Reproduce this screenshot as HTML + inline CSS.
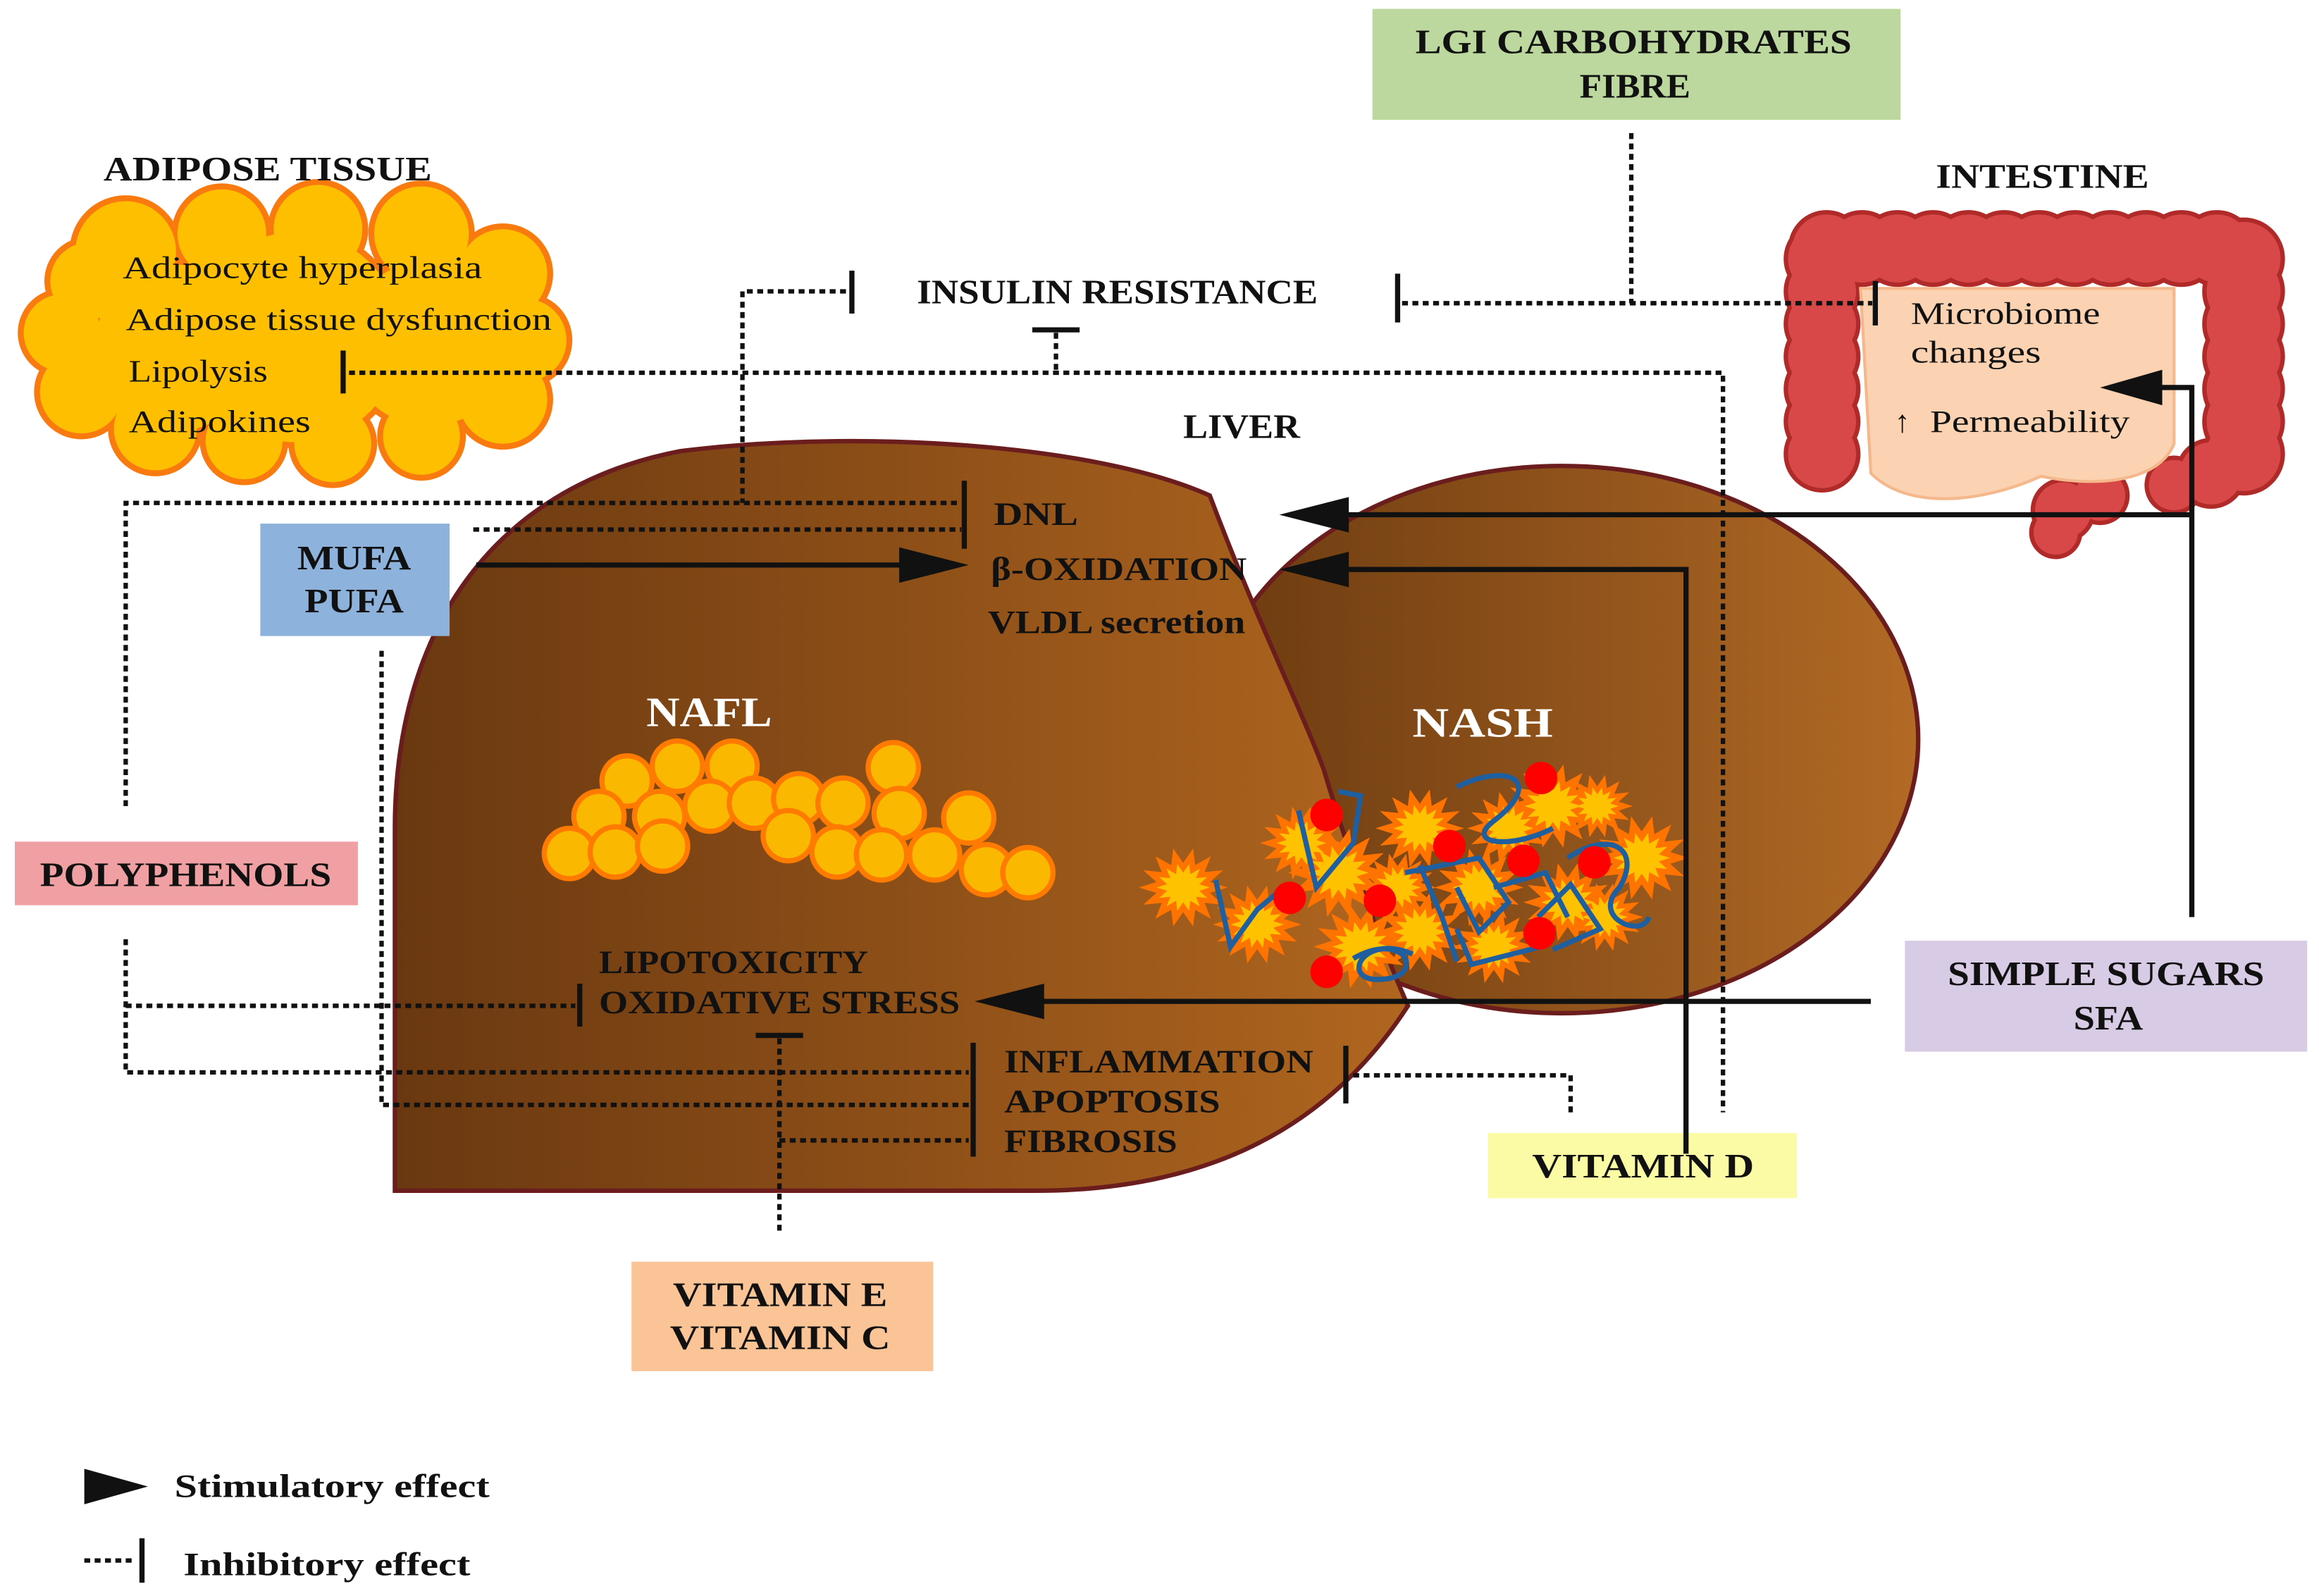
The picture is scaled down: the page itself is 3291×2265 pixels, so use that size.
<!DOCTYPE html>
<html><head><meta charset="utf-8">
<style>
html,body{margin:0;padding:0;background:#fff;}
svg{display:block;}
text{font-family:"Liberation Serif",serif;fill:#111;}
.b{font-weight:bold;}
</style></head>
<body>
<svg id="s" width="3291" height="2265" viewBox="0 0 1568 1079" preserveAspectRatio="none" xmlns="http://www.w3.org/2000/svg">
<defs>
<linearGradient id="lg" x1="0" x2="1" y1="0" y2="0">
<stop offset="0" stop-color="#6a3810"/><stop offset="1" stop-color="#b0661f"/>
</linearGradient>
<linearGradient id="rg" x1="0" x2="1" y1="0" y2="0">
<stop offset="0" stop-color="#6b3a10"/><stop offset="1" stop-color="#b26a25"/>
</linearGradient>
</defs>

<rect x="928" y="6" width="357" height="75" fill="#bcd89e"/>
<text x="957" y="36" font-size="23" class="b" textLength="295" lengthAdjust="spacingAndGlyphs">LGI CARBOHYDRATES</text>
<text x="1068" y="66" font-size="23" class="b" textLength="75" lengthAdjust="spacingAndGlyphs">FIBRE</text>

<!-- cloud -->
<g id="cloud"></g>
<text x="70" y="122" font-size="23" class="b" textLength="222" lengthAdjust="spacingAndGlyphs">ADIPOSE TISSUE</text>
<text x="1309" y="127" font-size="23" class="b" textLength="144" lengthAdjust="spacingAndGlyphs">INTESTINE</text>

<text x="83" y="188" font-size="21" textLength="243" lengthAdjust="spacingAndGlyphs">Adipocyte hyperplasia</text>
<text x="85" y="223" font-size="21" textLength="288" lengthAdjust="spacingAndGlyphs">Adipose tissue dysfunction</text>
<text x="87" y="258" font-size="21" textLength="94" lengthAdjust="spacingAndGlyphs">Lipolysis</text>
<text x="87" y="292" font-size="21" textLength="123" lengthAdjust="spacingAndGlyphs">Adipokines</text>

<!-- intestine -->
<g id="gut"></g>
<text x="1292" y="219" font-size="21" textLength="128" lengthAdjust="spacingAndGlyphs">Microbiome</text>
<text x="1292" y="245" font-size="21" textLength="88" lengthAdjust="spacingAndGlyphs">changes</text>
<text x="1281" y="292" font-size="21">↑</text>
<text x="1305" y="292" font-size="21" textLength="135" lengthAdjust="spacingAndGlyphs">Permeability</text>

<!-- liver -->
<ellipse cx="1056" cy="500" rx="241" ry="185" fill="url(#rg)" stroke="#6b1d1d" stroke-width="3"/>
<path d="M267,805 L267,560 C267,430 330,330 460,305 C580,290 740,300 818,335 C850,420 880,480 895,520 C910,570 930,630 952,680 C900,760 820,805 700,805 Z" fill="url(#lg)" stroke="#6b1d1d" stroke-width="3"/>

<text x="800" y="296" font-size="23" class="b" textLength="79" lengthAdjust="spacingAndGlyphs">LIVER</text>
<text x="620" y="205" font-size="23" class="b" textLength="271" lengthAdjust="spacingAndGlyphs">INSULIN RESISTANCE</text>

<text x="437" y="491" font-size="28" class="b" style="fill:#fff" textLength="85" lengthAdjust="spacingAndGlyphs">NAFL</text>
<text x="955" y="498" font-size="28" class="b" style="fill:#fff" textLength="95" lengthAdjust="spacingAndGlyphs">NASH</text>

<g id="nafl"></g>
<g id="nash"></g>

<text x="672" y="355" font-size="22" class="b" textLength="57" lengthAdjust="spacingAndGlyphs">DNL</text>
<text x="670" y="392" font-size="22" class="b" textLength="173" lengthAdjust="spacingAndGlyphs">β-OXIDATION</text>
<text x="668" y="428" font-size="22" class="b" textLength="174" lengthAdjust="spacingAndGlyphs">VLDL secretion</text>
<text x="405" y="658" font-size="22" class="b" textLength="182" lengthAdjust="spacingAndGlyphs">LIPOTOXICITY</text>
<text x="405" y="685" font-size="22" class="b" textLength="244" lengthAdjust="spacingAndGlyphs">OXIDATIVE STRESS</text>
<text x="679" y="725" font-size="22" class="b" textLength="209" lengthAdjust="spacingAndGlyphs">INFLAMMATION</text>
<text x="679" y="752" font-size="22" class="b" textLength="146" lengthAdjust="spacingAndGlyphs">APOPTOSIS</text>
<text x="679" y="779" font-size="22" class="b" textLength="117" lengthAdjust="spacingAndGlyphs">FIBROSIS</text>

<rect x="176" y="354" width="128" height="76" fill="#8db3dc"/>
<text x="201" y="385" font-size="23" class="b" textLength="77" lengthAdjust="spacingAndGlyphs">MUFA</text>
<text x="206" y="414" font-size="23" class="b" textLength="67" lengthAdjust="spacingAndGlyphs">PUFA</text>

<rect x="10" y="569" width="232" height="43" fill="#f0a0a2"/>
<text x="27" y="599" font-size="23" class="b" textLength="197" lengthAdjust="spacingAndGlyphs">POLYPHENOLS</text>

<rect x="1288" y="636" width="272" height="75" fill="#d8cbe5"/>
<text x="1317" y="666" font-size="23" class="b" textLength="214" lengthAdjust="spacingAndGlyphs">SIMPLE SUGARS</text>
<text x="1402" y="696" font-size="23" class="b" textLength="47" lengthAdjust="spacingAndGlyphs">SFA</text>

<rect x="1006" y="766" width="209" height="44" fill="#fbfba6"/>
<text x="1036" y="796" font-size="23" class="b" textLength="150" lengthAdjust="spacingAndGlyphs">VITAMIN D</text>

<rect x="427" y="853" width="204" height="74" fill="#fbc497"/>
<text x="455" y="883" font-size="23" class="b" textLength="145" lengthAdjust="spacingAndGlyphs">VITAMIN E</text>
<text x="453" y="912" font-size="23" class="b" textLength="149" lengthAdjust="spacingAndGlyphs">VITAMIN C</text>

<g fill="none" stroke="#111" stroke-width="3" stroke-dasharray="4 3">
<path d="M572,197 H502 V340"/>
<path d="M85,545 V340 H650"/>
<path d="M320,358 H650"/>
<path d="M948,205 H1266"/>
<path d="M1103,90 V205"/>
<path d="M714,225 V252 M236,252 H1165 V752"/>
<path d="M85,635 V725 H655"/>
<path d="M85,680 H389"/>
<path d="M258,440 V747 H655"/>
<path d="M527,832 V702"/>
<path d="M527,771 H655"/>
<path d="M1062,752 V727 H912"/>
<path d="M57,1055 H90"/>
</g>
<g stroke="#111" stroke-width="3.5" fill="none">
<path d="M576,183 V212"/>
<path d="M652,325 V371"/>
<path d="M945,185 V218"/>
<path d="M1268,190 V220"/>
<path d="M698,223 H730"/>
<path d="M232,237 V266"/>
<path d="M392,665 V694"/>
<path d="M658,705 V782"/>
<path d="M511,700 H543"/>
<path d="M910,707 V746"/>
<path d="M96,1040 V1070"/>
</g>

<g stroke="#111" stroke-width="3.5" fill="none">
<path d="M322,382 H615"/>
<path d="M1482,620 V262 H1455"/>
<path d="M1482,348 H905"/>
<path d="M1140,780 V385 H905"/>
<path d="M1265,677 H700"/>
</g>
<g fill="#111">
<polygon points="608,370 655,382 608,394"/>
<polygon points="1462,250 1420,262 1462,274"/>
<polygon points="912,336 865,348 912,360"/>
<polygon points="912,373 865,385 912,397"/>
<polygon points="706,665 659,677 706,689"/>
<polygon points="57,993 100,1005 57,1017"/>
</g>

<text x="118" y="1012" font-size="22" class="b" textLength="213" lengthAdjust="spacingAndGlyphs">Stimulatory effect</text>
<text x="124" y="1065" font-size="22" class="b" textLength="194" lengthAdjust="spacingAndGlyphs">Inhibitory effect</text>

<script>
var NS="http://www.w3.org/2000/svg";
function el(p,t,a){var e=document.createElementNS(NS,t);for(var k in a)e.setAttribute(k,a[k]);p.appendChild(e);return e;}
var c=document.getElementById('cloud');
var cc=[[85,170,38],[150,158,34],[215,155,34],[285,158,36],[340,185,34],[355,230,32],[340,270,34],[285,295,30],[225,300,30],[165,298,30],[105,290,32],[55,265,32],[42,225,30],[60,190,30],[200,228,75],[120,235,60],[290,232,60]];
cc.forEach(function(p){el(c,'circle',{cx:p[0],cy:p[1],r:p[2],fill:'#f97b10'});});
cc.forEach(function(p){el(c,'circle',{cx:p[0],cy:p[1],r:p[2]-4,fill:'#fdbf00'});});
var g=document.getElementById('gut');
var gc=[];
for(var x=1235;x<=1515;x+=24)gc.push([x,168,26]);
for(var y=175;y<=320;y+=22)gc.push([1232,y,26]);
for(var y=175;y<=315;y+=22)gc.push([1517,y,28]);
gc.push([1495,320,24],[1470,328,20],[1420,335,20],[1395,345,22],[1390,360,18]);
gc.forEach(function(p){el(g,'circle',{cx:p[0],cy:p[1],r:p[2],fill:'#b02a2a'});});
gc.forEach(function(p){el(g,'circle',{cx:p[0],cy:p[1],r:p[2]-3,fill:'#d84848'});});
el(g,'path',{d:'M1258,195 H1470 V300 C1460,325 1420,330 1380,322 C1340,340 1290,345 1265,320 Z',fill:'#fcd3b2',stroke:'#f4b88c','stroke-width':2});
var n=document.getElementById('nafl');
[[424,528],[458,518],[495,518],[604,519],[405,552],[446,552],[480,545],[510,543],[540,540],[570,543],[608,550],[655,553],[385,577],[416,576],[448,572],[533,565],[566,576],[596,578],[632,578],[667,588],[695,590]].forEach(function(p){el(n,'circle',{cx:p[0],cy:p[1],r:17,fill:'#fbb800',stroke:'#ff7a00','stroke-width':3.5});});
var h=document.getElementById('nash');
function star(cx,cy,r,col){var pts=[];for(var i=0;i<28;i++){var a=i*Math.PI/14,rr=(i%2?r*0.62:r);pts.push((cx+rr*Math.cos(a)).toFixed(1)+','+(cy+rr*0.9*Math.sin(a)).toFixed(1));}el(h,'polygon',{points:pts.join(' '),fill:col});}
var st=[[800,600,30],[850,625,30],[880,570,28],[905,590,34],[920,640,32],[960,560,30],[1000,600,30],[1050,545,32],[1060,610,30],[1110,580,32],[960,630,30],[1010,640,28],[1085,620,26],[1020,560,28],[945,600,26],[1080,545,24]];
st.forEach(function(p){star(p[0],p[1],p[2],'#ff7300');});
st.forEach(function(p){star(p[0],p[1],p[2]*0.6,'#ffc200');});
var sq=['M822,595 L832,640 L850,615 L868,600','M878,548 L890,600 L915,570 L920,538 L905,535','M985,532 C1020,515 1045,528 1010,555 C990,570 1020,575 1050,560','M950,590 L1000,580 L1020,610 L1000,630 L985,600','M1060,580 C1090,560 1110,575 1095,600 C1075,620 1110,635 1115,620','M915,648 C950,628 965,660 935,662 C905,665 920,630 955,645','M1040,620 L1062,598 L1082,628 L1050,642','M985,628 L995,652 L1042,640','M960,585 L975,620 L985,650','M1010,600 L1045,590 L1060,620'];
sq.forEach(function(d){el(h,'path',{d:d,fill:'none',stroke:'#1f5fa0','stroke-width':3.5});});
[[897,551],[1042,526],[980,572],[1030,582],[1078,583],[872,607],[933,609],[1041,631],[897,657]].forEach(function(p){el(h,'ellipse',{cx:p[0],cy:p[1],rx:11,ry:11,fill:'#ff0000'});});
</script>
</svg>
</body></html>
